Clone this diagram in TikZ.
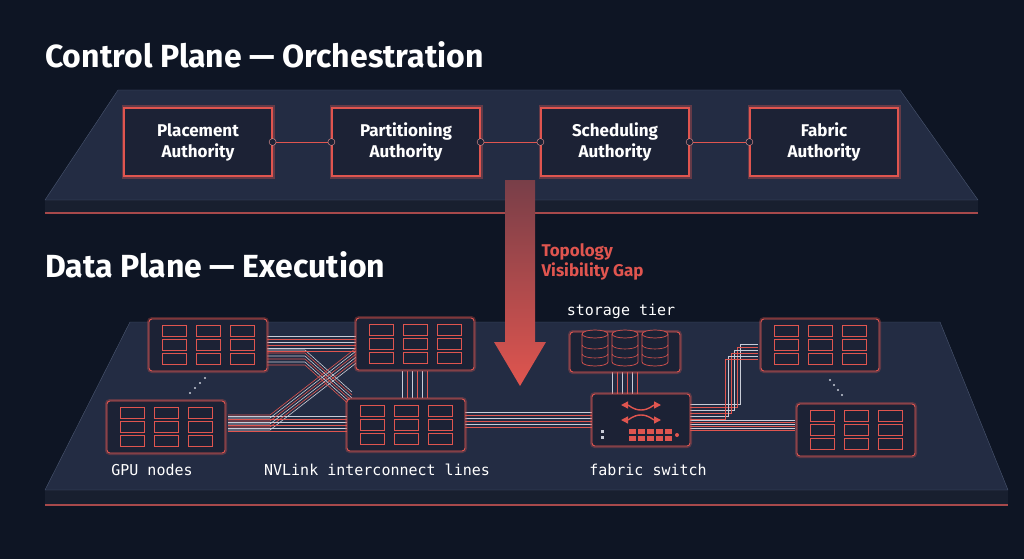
\documentclass[tikz,border=0pt]{standalone}
\usepackage{fontspec}
\setmainfont{Fira Sans}
\setmonofont{DejaVu Sans Mono}
\usetikzlibrary{calc,positioning,arrows.meta}

\definecolor{bgnavy}{HTML}{0E1524}
\definecolor{plane}{HTML}{232C43}
\definecolor{planeedge}{HTML}{4A5670}
\definecolor{glow}{HTML}{E0554F}
\definecolor{boxfill}{HTML}{1C2235}
\definecolor{wire}{HTML}{C9CDD8}

\tikzset{
  title/.style={font=\bfseries\fontsize{32}{36}\selectfont,text=white,anchor=west,inner sep=0},
  authority/.style={draw=glow,fill=boxfill,line width=1.2pt,minimum width=148pt,minimum height=68pt,
    align=center,text=white,font=\bfseries\fontsize{17}{21}\selectfont,
    preaction={draw=glow,opacity=.35,line width=5pt}},
  tray/.style={draw=glow,fill=boxfill,rounded corners=3pt,line width=.9pt,
    preaction={draw=glow,opacity=.3,line width=4pt}},
  chip/.style={draw=glow,fill=boxfill,line width=.6pt,minimum width=24pt,minimum height=11pt,inner sep=0},
  label/.style={font=\ttfamily\fontsize{15}{17}\selectfont,text=white},
  link/.style={draw=glow,line width=1pt},
  dot/.style={circle,fill=boxfill,draw=glow!60!white,minimum size=7pt,inner sep=0},
  swarrow/.style={glow,-{Triangle[width=7pt,length=7pt]},line width=1.4pt},
}

\newcommand{\gputray}[3]{% name, x, y
  \node[tray,minimum width=118pt,minimum height=52pt] (#1) at (#2,#3) {};
  \foreach \i in {-1,0,1}
    \foreach \j in {-1,0,1}
      \node[chip] at ($(#1)+(\i*34,\j*14)$) {};
}

\begin{document}
\begin{tikzpicture}[x=1pt,y=-1pt]
  \fill[bgnavy] (0,0) rectangle (1024,559);
  \useasboundingbox (0,0) rectangle (1024,559);

  % control plane
  \node[title] (ctitle) at (45,55) {Control Plane — Orchestration};
  \fill[plane!70!black] (45,200) -- (978,200) -- (978,213) -- (45,213) -- cycle;
  \fill[plane,draw=planeedge] (118,90) -- (900,90) -- (978,200) -- (45,200) -- cycle;
  \draw[glow!70!plane,line width=1.2pt] (45,213) -- (978,213);

  \node[authority] (place) at (198,142) {Placement\\Authority};
  \node[authority] (part) at (406,142) {Partitioning\\Authority};
  \node[authority] (sched) at (615,142) {Scheduling\\Authority};
  \node[authority] (fab) at (824,142) {Fabric\\Authority};
  \foreach \a/\b in {place/part,part/sched,sched/fab}{
    \draw[link] (\a.east) -- (\b.west);
    \node[dot] at (\a.east) {};
    \node[dot] at (\b.west) {};
  }

  % data plane
  \node[title] (dtitle) at (45,265) {Data Plane — Execution};
  \fill[plane!70!black] (45,490) -- (1008,490) -- (1008,505) -- (45,505) -- cycle;
  \fill[plane,draw=planeedge] (130,322) -- (940,322) -- (1008,490) -- (45,490) -- cycle;
  \draw[glow!70!plane,line width=1.2pt] (45,505) -- (1008,505);

  % gap arrow
  \coordinate (gtop) at (520,180);
  \coordinate (gtip) at (520,386);
  \shade[top color=glow!45!plane,bottom color=glow]
    ($(gtop)+(-15,0)$) -- ($(gtop)+(15,0)$) -- ($(gtip)+(15,-44)$) -- ($(gtip)+(26,-44)$)
    -- (gtip) -- ($(gtip)+(-26,-44)$) -- ($(gtip)+(-15,-44)$) -- cycle;
  \node[font=\bfseries\fontsize{17}{20}\selectfont,text=glow,align=left,anchor=west] (gap) at (538,262)
    {Topology\\Visibility Gap};

  % bundles
  \foreach \k in {0,...,5}{
    \pgfmathsetmacro{\c}{mod(\k,2)==0 ? "wire" : "glow"}
    \draw[\c,line width=.6pt] (265,336+\k*3) -- (360,336+\k*3);
    \draw[\c,line width=.6pt] (228,416+\k*3) -- (352,416+\k*3);
    \draw[\c,line width=.6pt] (265,350+\k*3) -- (305,350+\k*3) -- (352,392+\k*3);
    \draw[\c,line width=.6pt] (228,430-\k*3) -- (270,430-\k*3) -- (360,360-\k*3);
    \draw[\c,line width=.6pt] (402+\k*5,371) -- (402+\k*5,398);
    \draw[\c,line width=.6pt] (460,412+\k*3) -- (593,412+\k*3);
    \draw[\c,line width=.6pt] (612+\k*5,372) -- (612+\k*5,394);
    \draw[\c,line width=.6pt] (690,404+\k*3) -- (740-\k*3,404+\k*3) -- (740-\k*3,344+\k*3) -- (758,344+\k*3);
    \draw[\c,line width=.6pt] (690,420+\k*2) -- (795,420+\k*2);
  }

  % gpu trays
  \gputray{gpuA}{208}{345}
  \gputray{gpuB}{415}{344}
  \gputray{gpuC}{166}{427}
  \gputray{gpuD}{406}{425}
  \gputray{gpuE}{820}{345}
  \gputray{gpuF}{856}{430}
  \foreach \t in {0,1,2,3}{
    \fill[wire] (205-\t*5,378+\t*5) circle (1.2pt);
    \fill[wire] (830+\t*4,380+\t*5) circle (1.2pt);
  }

  % storage tier
  \node[tray,minimum width=110pt,minimum height=40pt] (store) at (625,352) {};
  \foreach \i in {-1,0,1}{
    \draw[glow,fill=boxfill,line width=.7pt] ($(store)+(\i*30-13,-18)$) -- ++(0,28)
      arc[start angle=180,end angle=360,x radius=13,y radius=-4] -- ++(0,-28);
    \draw[glow,fill=boxfill,line width=.7pt] ($(store)+(\i*30,-18)$) ellipse[x radius=13,y radius=4];
    \foreach \r in {-7,2}
      \draw[glow,line width=.6pt] ($(store)+(\i*30-13,\r)$) arc[start angle=180,end angle=360,x radius=13,y radius=-4];
  }
  \node[label] (storelbl) at (621,311) {storage tier};

  % fabric switch
  \node[tray,minimum width=98pt,minimum height=52pt] (switch) at (641,420) {};
  \draw[swarrow] ($(switch)+(0,-10)$) to[out=0,in=180] ($(switch)+(20,-15)$);
  \draw[swarrow] ($(switch)+(0,-10)$) to[out=180,in=0] ($(switch)+(-20,-15)$);
  \draw[swarrow] ($(switch)+(0,-5)$) to[out=180,in=0] ($(switch)+(-20,0)$);
  \draw[swarrow] ($(switch)+(0,-5)$) to[out=0,in=180] ($(switch)+(20,0)$);
  \foreach \i in {0,...,4}
    \foreach \j in {0,1}
      \fill[glow] ($(switch)+(-12+\i*9,9+\j*7)$) rectangle ++(7,5);
  \fill[glow] ($(switch)+(36,15)$) circle (2pt);
  \fill[wire] ($(switch)+(-40,10)$) rectangle ++(3,3);
  \fill[wire] ($(switch)+(-40,16)$) rectangle ++(3,3);

  % labels
  \node[label] (gpulbl) at (152,470) {GPU nodes};
  \node[label] (nvlbl) at (377,470) {NVLink interconnect lines};
  \node[label] (swlbl) at (648,470) {fabric switch};
\end{tikzpicture}
\end{document}
